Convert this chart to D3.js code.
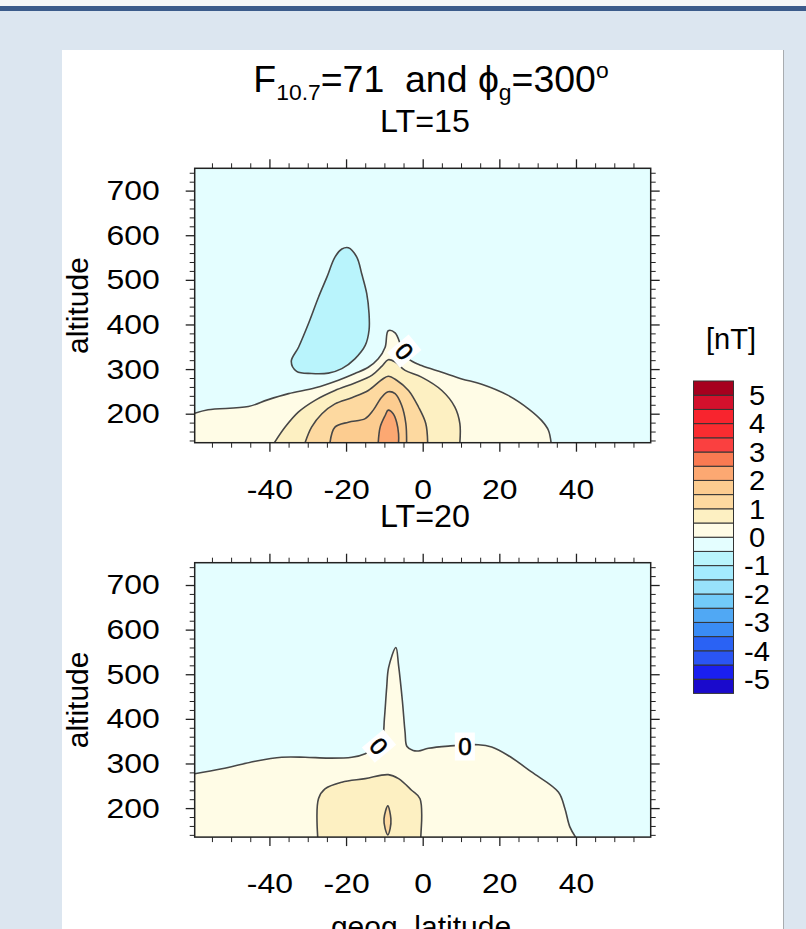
<!DOCTYPE html>
<html>
<head>
<meta charset="utf-8">
<script src="https://cdn.jsdelivr.net/npm/d3@7/dist/d3.min.js"></script>
<style>
  body { margin: 0; background: #dce6f0; }
  svg { display: block; font-family: "Liberation Sans", Arial, Helvetica, sans-serif; }
  text { white-space: pre; }
</style>
</head>
<body>
<div id="chart"></div>
<script>
// contour levels and the colour of each band (lowest band first)
const levels = [-5,-4.5,-4,-3.5,-3,-2.5,-2,-1.5,-1,-0.5,0,0.5,1,1.5,2,2.5,3,3.5,4,4.5,5];
const bandColors = ["#1a0acc","#1a1ff0","#2a55f4","#2a62f4","#3a8cf4","#50a8f4","#72cbf9","#98e2fb",
  "#a4ebfe","#b9f4fc","#e4feff","#fffce6","#fdf0c2","#fdd9a0","#fccc90","#fca872",
  "#fa7a52","#fa4040","#fa2c30","#f8242e","#d4102c","#a6001e"];
const barLabels = [5,4,3,2,1,0,-1,-2,-3,-4,-5];

const latTicks = [-40,-20,0,20,40];
const altTicks = [200,300,400,500,600,700];

// contour outlines: [latitude, altitude]
// LT=15
const lt15_m05 = [[-19.4,572],[-17.2,551],[-15.9,513],[-14.6,469],[-14,424],[-14,387],[-15,353],[-17.7,323],
  [-21.1,301],[-24.6,291],[-29,290],[-32.9,295],[-34.3,317],[-32.4,349],[-29.8,402],[-27.2,461],[-25,506],
  [-22.9,551],[-21.1,569]];
const lt15_0 = [[-59.5,201],[-56,209],[-45.5,216],[-40.5,231],[-35,245],[-28,258],[-22,275],[-17.7,290],
  [-14.2,304],[-11.6,323],[-9.8,349],[-9,386],[-7.2,381],[-5.5,349],[-3.7,323],[-0.3,308],[5,293],
  [10.2,278],[15.4,266],[22.3,241],[27.6,211],[31,185],[32.8,163],[33.5,135]];
const lt15_05 = [[-38.7,135],[-35.9,170],[-32.4,204],[-28.1,230],[-22.9,252],[-17.7,269],[-13.3,286],
  [-10.7,306],[-9,321],[-7.2,316],[-4.6,297],[-0.3,282],[5,252],[8.4,215],[9.7,178],[9.7,135]];
const lt15_1 = [[-30.7,135],[-29,170],[-26.3,200],[-22.9,222],[-18.5,236],[-14.2,252],[-10.7,276],
  [-9,284],[-6.8,275],[-3.7,252],[-1.1,215],[0.8,178],[1.3,135]];
const lt15_15 = [[-24.2,135],[-22.9,170],[-19.4,181],[-15,189],[-12.9,208],[-10.7,237],[-9,249],
  [-7.2,245],[-5.5,219],[-4.4,178],[-4.2,135]];
const lt15_2 = [[-11.6,135],[-11.1,170],[-9.8,196],[-9,208],[-7.7,200],[-6.8,181],[-6.3,155],[-6.3,135]];

// LT=20
const lt20_0 = [[-59.5,277],[-52.4,288],[-43.7,305],[-36.8,314],[-30.7,314],[-24.6,312],[-18.5,314],
  [-15,322],[-12.4,337],[-10.5,360],[-10,400],[-9.4,470],[-8.9,515],[-7,560],[-6.3,520],[-5.3,440],
  [-4.6,370],[-4.1,338],[-2.5,329],[-1.1,328],[1.5,334],[6.7,339],[14.5,342],[18,337],[22.3,318],
  [28.4,281],[35.4,236],[37.1,199],[38.4,158],[39.9,135]];
const lt20_05 = [[-27.4,135],[-27.2,221],[-25.5,243],[-21.1,258],[-15,266],[-9,275],[-6.3,266],
  [-2.9,240],[-0.7,221],[-0.5,135]];
const lt20_1 = [[-9.1,205],[-8.3,176],[-8.5,154],[-9.1,140],[-9.8,154],[-10.1,176]];

const panels = [
  { title: "LT=15", top: 168.3,
    open: [{lev: 0, pts: lt15_0}, {lev: 0.5, pts: lt15_05}, {lev: 1, pts: lt15_1},
           {lev: 1.5, pts: lt15_15}, {lev: 2, pts: lt15_2}],
    rings: [{lev: -0.5, low: true, pts: lt15_m05}],
    labels: [{lat: -4.8, alt: 340, rot: 50}] },
  { title: "LT=20", top: 562.7,
    open: [{lev: 0, pts: lt20_0}, {lev: 0.5, pts: lt20_05}],
    rings: [{lev: 1, pts: lt20_1}],
    labels: [{lat: -11.4, alt: 339, rot: 50}, {lat: 11, alt: 338, rot: 0}] }
];

const W = 806, H = 929;
const left = 194.7, right = 650.7, ph = 274.4;
const latDom = [-59.5, 59.5], altDom = [135, 750];
const stretch = 1.14;   // ncl text is a bit wider than liberation sans

const svg = d3.select("#chart").append("svg").attr("width", W).attr("height", H);

// page decoration
svg.append("rect").attr("width", W).attr("height", H).attr("fill", "#dce6f0");
svg.append("rect").attr("width", W).attr("height", 6).attr("fill", "#f4f6f8");
svg.append("rect").attr("y", 6).attr("width", W).attr("height", 5).attr("fill", "#3b5b8b");
svg.append("rect").attr("x", 62).attr("y", 50).attr("width", 721).attr("height", H).attr("fill", "#fff");
svg.append("line").attr("x1", 783.5).attr("x2", 783.5).attr("y1", 50).attr("y2", H)
   .attr("stroke", "#a8acb0").attr("stroke-width", 1);

function bandColor(lev) {
  return bandColors[levels.indexOf(lev) + 1];
}

// put a text at its own x/y and widen it around its anchor
function widen(sel, sx) {
  sel.each(function() {
    const t = d3.select(this);
    const tx = +t.attr("x") || 0, ty = +t.attr("y") || 0;
    t.attr("x", 0).attr("y", 0).attr("transform", `translate(${tx},${ty}) scale(${sx},1)`);
  });
}

const x = d3.scaleLinear().domain(latDom).range([left, right]);

panels.forEach((p, i) => {
  const y = d3.scaleLinear().domain(altDom).range([p.top + ph, p.top]);
  const g = svg.append("g");
  const clipId = "clip" + i;
  svg.append("clipPath").attr("id", clipId).append("rect")
     .attr("x", left).attr("y", p.top).attr("width", right - left).attr("height", ph);

  const line = d3.line().x(d => x(d[0])).y(d => y(d[1])).curve(d3.curveCatmullRom.alpha(0.5));
  const ring = d3.line().x(d => x(d[0])).y(d => y(d[1])).curve(d3.curveCatmullRomClosed.alpha(0.5));

  const plot = g.append("g").attr("clip-path", `url(#${clipId})`);
  plot.append("rect").attr("x", left).attr("y", p.top).attr("width", right - left).attr("height", ph)
      .attr("fill", bandColor(-0.5));

  // filled bands, closed along the bottom edge
  p.open.forEach(c => {
    const a = c.pts[0], b = c.pts[c.pts.length - 1];
    const ax = a[0] <= latDom[0] ? latDom[0] - 5 : a[0];
    const d = line(c.pts) + "L" + x(b[0]) + "," + y(altDom[0] - 10) +
              "L" + x(ax) + "," + y(altDom[0] - 10) + "L" + x(ax) + "," + y(a[1]) + "Z";
    plot.append("path").attr("d", d).attr("fill", bandColor(c.lev));
  });
  p.rings.forEach(c => {
    plot.append("path").attr("d", ring(c.pts))
        .attr("fill", c.low ? bandColors[levels.indexOf(c.lev)] : bandColor(c.lev));
  });

  // contour lines
  p.open.forEach(c => {
    plot.append("path").attr("d", line(c.pts)).attr("fill", "none")
        .attr("stroke", "#474747").attr("stroke-width", 1.6);
  });
  p.rings.forEach(c => {
    plot.append("path").attr("d", ring(c.pts)).attr("fill", "none")
        .attr("stroke", "#474747").attr("stroke-width", 1.6);
  });

  // contour labels
  p.labels.forEach(l => {
    const lg = plot.append("g").attr("transform", `translate(${x(l.lat)},${y(l.alt)}) rotate(${l.rot})`);
    lg.append("rect").attr("x", -10).attr("y", -14).attr("width", 20).attr("height", 28).attr("fill", "#fff");
    lg.append("text").attr("text-anchor", "middle").attr("dy", "0.36em")
      .attr("font-size", 24).attr("fill", "#000").attr("stroke", "#000").attr("stroke-width", 0.6)
      .text("0");
  });

  // frame
  g.append("rect").attr("x", left).attr("y", p.top).attr("width", right - left).attr("height", ph)
   .attr("fill", "none").attr("stroke", "#222").attr("stroke-width", 1.5);

  // ticks on all four sides, pointing outward
  const latMinor = d3.range(-55, 56, 5).filter(v => v % 20 !== 0);
  const altMinor = d3.range(140, 750, 20).filter(v => v % 100 !== 0);
  const axes = [
    [d3.axisBottom(x), `translate(0,${p.top + ph})`, latTicks, latMinor, true],
    [d3.axisTop(x), `translate(0,${p.top})`, latTicks, latMinor, false],
    [d3.axisLeft(y), `translate(${left},0)`, altTicks, altMinor, true],
    [d3.axisRight(y), `translate(${right},0)`, altTicks, altMinor, false]
  ];
  axes.forEach(([ax, tr, major, minor, lab]) => {
    const isX = major === latTicks;
    g.append("g").attr("transform", tr)
     .call(ax.tickValues(minor).tickSize(5).tickFormat(""))
     .call(s => s.select(".domain").remove())
     .selectAll("line").attr("stroke", "#222").attr("stroke-width", 1);
    const a = g.append("g").attr("transform", tr)
     .call(ax.tickValues(major).tickSize(9).tickPadding(isX ? 27 : 26).tickFormat(lab ? (d => String(d)) : ""))
     .call(s => s.select(".domain").remove());
    a.selectAll("line").attr("stroke", "#222").attr("stroke-width", 1.3);
    const txt = a.selectAll("text").attr("font-size", 28).attr("fill", "#000")
     .attr("font-family", "Liberation Sans, Arial, sans-serif");
    if (lab) widen(txt, stretch);
  });

  // panel subtitle and y title
  svg.append("text").attr("x", 425).attr("y", p.top - 36).attr("text-anchor", "middle")
     .attr("font-size", 31).call(widen, 1.04).text(p.title);
  svg.append("text").attr("transform", `translate(88,${p.top + ph / 2}) rotate(-90)`)
     .attr("text-anchor", "middle").attr("font-size", 30).text("altitude");
});

// main title
const t = svg.append("text").attr("x", 431).attr("y", 92).attr("text-anchor", "middle").attr("font-size", 36)
   .call(widen, 1.04);
t.append("tspan").text("F");
t.append("tspan").attr("font-size", 22).attr("dy", 8).text("10.7");
t.append("tspan").attr("dy", -8).text("=71  and \u03d5");
t.append("tspan").attr("font-size", 22).attr("dy", 8).text("g");
t.append("tspan").attr("dy", -8).text("=300");
t.append("tspan").attr("font-size", 22).attr("dy", -14).text("o");

// x title (cut by the bottom of the page)
svg.append("text").attr("x", 421).attr("y", 937).attr("text-anchor", "middle")
   .attr("font-size", 30).text("geog. latitude");

// colour bar
const barTop = 381, barH = 14.2 * 22, barX = 693.5, barW = 40;
const yb = d3.scaleLinear().domain([0, bandColors.length]).range([barTop + barH, barTop]);
const bar = svg.append("g");
bar.selectAll("rect").data(bandColors).join("rect")
   .attr("x", barX).attr("y", (d, i) => yb(i + 1)).attr("width", barW)
   .attr("height", (d, i) => yb(i) - yb(i + 1)).attr("fill", d => d)
   .attr("stroke", "#333").attr("stroke-width", 1);
bar.selectAll("text").data(barLabels).join("text")
   .attr("x", 757).attr("y", d => yb(levels.indexOf(d) + 1)).attr("dy", "0.36em")
   .attr("text-anchor", "middle").attr("font-size", 27).text(d => d)
   .call(widen, 1.08);
svg.append("text").attr("x", 731).attr("y", 349).attr("text-anchor", "middle")
   .attr("font-size", 29).text("[nT]");
</script>
</body>
</html>
